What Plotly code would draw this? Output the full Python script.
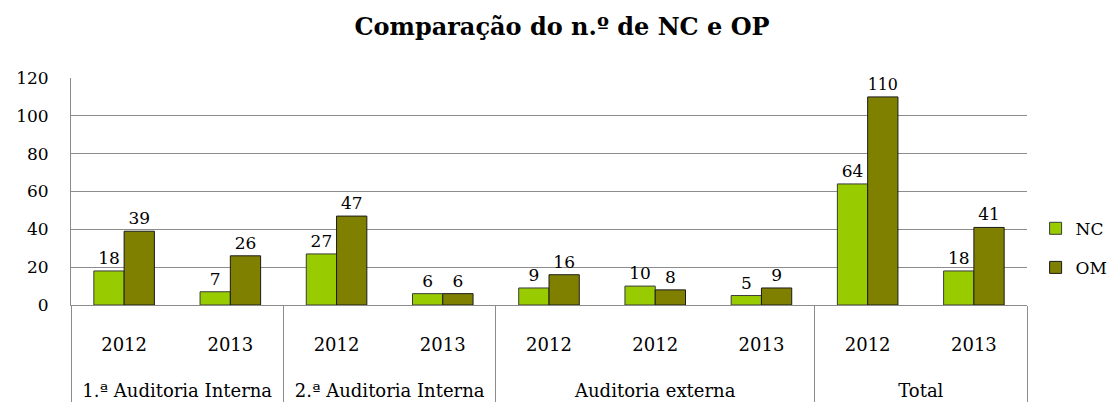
import plotly.graph_objects as go

groups = ["1.ª Auditoria Interna", "1.ª Auditoria Interna",
          "2.ª Auditoria Interna", "2.ª Auditoria Interna",
          "Auditoria externa", "Auditoria externa", "Auditoria externa",
          "Total", "Total"]
years = ["2012", "2013", "2012", "2013", "2012", "2012", "2013", "2012", "2013"]
nc_values = [18, 7, 27, 6, 9, 10, 5, 64, 18]
om_values = [39, 26, 47, 6, 16, 8, 9, 110, 41]

serif = "DejaVu Serif, Liberation Serif, serif"

# multicategory: keep each column distinct (two 2012 columns in 'Auditoria externa')
group_lbl = ["<br><br>" + g for g in groups]
year_lbl = ["<br>" + "<span></span>" * i + y for i, y in enumerate(years)]
x = [group_lbl, year_lbl]

fig = go.Figure()
fig.add_trace(go.Bar(
    x=x, y=nc_values, name="NC", legendgroup="a",
    marker=dict(color="#99CC00", line=dict(color="#3a3a3a", width=1)),
    text=[str(v) for v in nc_values], textposition="outside",
    textfont=dict(family=serif, size=17, color="black"), cliponaxis=False,
))
fig.add_trace(go.Bar(
    x=x, y=om_values, name="OM", legendgroup="b",
    marker=dict(color="#808000", line=dict(color="#1a1a1a", width=1)),
    text=[str(v) for v in om_values], textposition="outside",
    textfont=dict(family=serif, size=17, color="black"), cliponaxis=False,
))

fig.update_layout(
    width=1101, height=401,
    margin=dict(l=63, r=82, t=70, b=104, autoexpand=False),
    paper_bgcolor="white", plot_bgcolor="white",
    barmode="group", bargap=0.43, bargroupgap=0,
    title=dict(text="<b>Comparação do n.º de NC e OP</b>", x=0.5136, xanchor="center",
               xref="paper", y=0.953, yanchor="middle", yref="container",
               font=dict(family=serif, size=24, color="black")),
    font=dict(family=serif, size=17, color="black"),
    legend=dict(x=1.009, y=0.25, xanchor="left", yanchor="middle",
                font=dict(family=serif, size=17, color="black"),
                tracegroupgap=14, itemwidth=30),
    showlegend=True,
)
fig.update_yaxes(range=[0, 120], dtick=20, showgrid=True, gridcolor="#8c8c8c",
                 gridwidth=1, showline=True, linecolor="#8c8c8c", linewidth=1,
                 zeroline=False, ticks="", ticklabelstandoff=18, automargin=False,
                 tickfont=dict(family=serif, size=17))
fig.update_xaxes(type="multicategory", showline=True, linecolor="#8c8c8c", linewidth=1,
                 showdividers=True, dividercolor="#8c8c8c", dividerwidth=1,
                 ticks="", automargin=False, tickfont=dict(family=serif, size=18))

fig.write_html("out.html")
